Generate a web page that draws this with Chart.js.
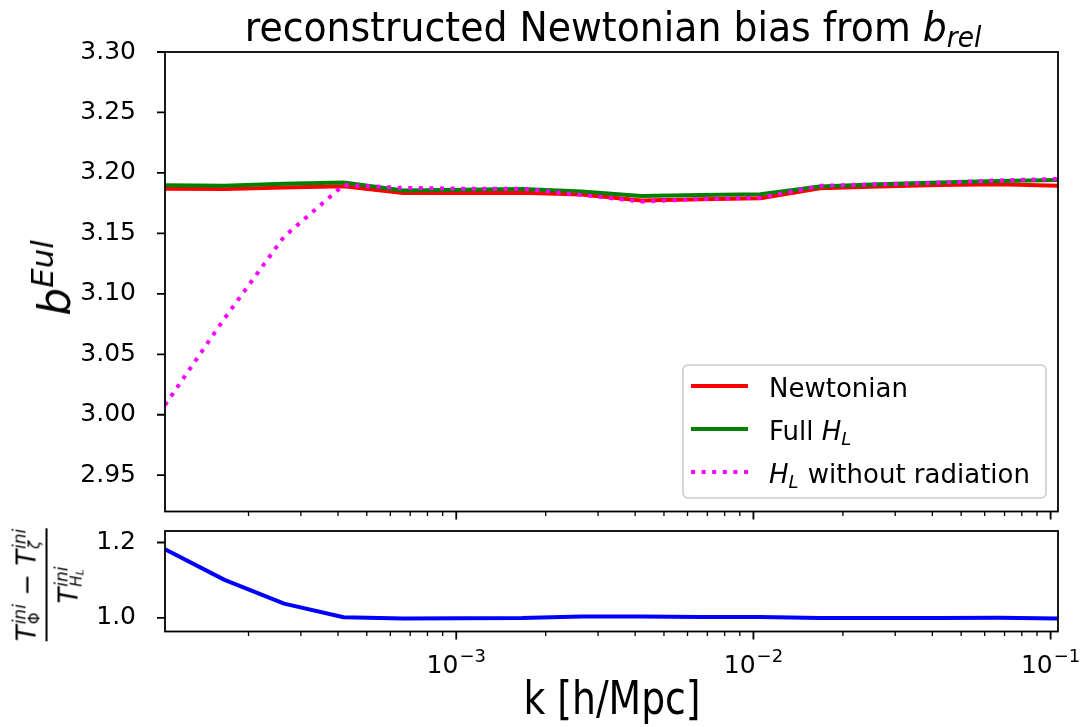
<!DOCTYPE html>
<html>
<head>
<meta charset="utf-8">
<script src="https://cdn.jsdelivr.net/npm/chart.js@4.4.1/dist/chart.umd.min.js"></script>
<style>
  body { margin: 0; background: #fff; }
  #wrap { position: relative; width: 1087px; height: 727px; overflow: hidden; font-family: "DejaVu Sans", sans-serif; color: #000; }
  canvas { position: absolute; left: 0; }
  #topChart { top: 0; }
  #botChart { top: 522px; }
  .lbl { position: absolute; white-space: nowrap; line-height: 1; }
  #title { left: 613px; top: 7px; font-size: 40px; transform: translateX(-50%) scaleX(0.945); }
  #title .sub { font-size: 0.7em; font-style: italic; position: relative; top: 0.22em; }
  #xlab { left: 611.5px; top: 675px; font-size: 46px; transform: translateX(-50%) scaleX(0.82); }
  #ylab { left: 55px; top: 278px; font-size: 44px; transform: translate(-50%, -50%) rotate(-90deg); }
  #ylab .sup { font-size: 0.7em; font-style: italic; position: relative; top: -0.55em; }
  #ylab2 { left: 49px; top: 585px; font-size: 26px; transform: translate(-50%, -50%) rotate(-90deg); }
  .frac { display: inline-flex; flex-direction: column; align-items: center; }
  .frac .bar { align-self: stretch; height: 1.8px; background: #000; margin: 4px 0 6px; }
  .ss { display: inline-flex; flex-direction: column; font-size: 17px; line-height: 0.95; vertical-align: 10px; margin-left: 1px; }
  .ss .lo { font-size: 15px; }
  .ss sub { font-size: 11px; vertical-align: -0.2em; }
</style>
</head>
<body>
<div id="wrap">
  <canvas id="topChart" width="1087" height="522"></canvas>
  <canvas id="botChart" width="1087" height="205"></canvas>
  <div id="title" class="lbl">reconstructed Newtonian bias from <i>b</i><span class="sub">rel</span></div>
  <div id="xlab" class="lbl">k [h/Mpc]</div>
  <div id="ylab" class="lbl"><i>b</i><span class="sup">Eul</span></div>
  <div id="ylab2" class="lbl">
    <div class="frac">
      <div><i>T</i><span class="ss"><i>ini</i><span class="lo">Φ</span></span> − <i>T</i><span class="ss"><i>ini</i><i class="lo">ζ</i></span></div>
      <div class="bar"></div>
      <div><i>T</i><span class="ss"><i>ini</i><span class="lo"><i>H</i><sub><i>L</i></sub></span></span></div>
    </div>
  </div>
</div>
<script>
// k grid and measured biases
const kValues = [1.047e-4, 1.661e-4, 2.634e-4, 4.178e-4, 6.628e-4, 1.051e-3, 1.667e-3, 2.644e-3,
                 4.194e-3, 6.653e-3, 1.055e-2, 1.674e-2, 2.655e-2, 4.211e-2, 6.679e-2, 1.059e-1];
const newtonian = [3.1870, 3.1866, 3.1880, 3.1890, 3.1833, 3.1833, 3.1835, 3.1822,
                   3.1772, 3.1783, 3.1791, 3.1874, 3.1887, 3.1900, 3.1907, 3.1893];
const fullHL = [3.1899, 3.1893, 3.1910, 3.1920, 3.1854, 3.1860, 3.1868, 3.1846,
                3.1810, 3.1818, 3.1824, 3.1887, 3.1907, 3.1920, 3.1934, 3.1942];
const noRadiation = [3.0080, 3.0797, 3.1473, 3.1900, 3.1876, 3.1870, 3.1870, 3.1818,
                     3.1763, 3.1783, 3.1796, 3.1893, 3.1907, 3.1920, 3.1938, 3.1950];
const tRatio = [1.1820, 1.1008, 1.0378, 1.0016, 0.9985, 0.9990, 0.9995, 1.0035,
                1.0035, 1.0020, 1.0020, 0.9995, 0.9995, 0.9995, 1.0000, 0.9980];

const xMajor = [1e-3, 1e-2, 1e-1];
const xTickExp = ['\u22123', '\u22122', '\u22121'];
const xMinor = [];
[1e-4, 1e-3, 1e-2].forEach(d => { for (let m = 2; m <= 9; m++) xMinor.push(m * d); });
const yTicksTop = [2.95, 3.00, 3.05, 3.10, 3.15, 3.20, 3.25, 3.30];
const yTicksBot = [1.0, 1.2];

const FONT = 'DejaVu Sans';
const TICK_SIZE = 25;
const xMin = 1.047e-4, xMax = 1.059e-1;

const pts = ys => ys.map((y, i) => ({ x: kValues[i], y: y }));

// box + tick marks, matplotlib style
const frame = {
  id: 'frame',
  afterDraw(chart) {
    const { ctx, chartArea: a } = chart;
    const x = chart.scales.x, y = chart.scales.y;
    ctx.save();
    ctx.strokeStyle = '#000';
    ctx.lineWidth = 1.8;
    ctx.strokeRect(a.left, a.top, a.right - a.left, a.bottom - a.top);
    ctx.beginPath();
    y.ticks.forEach(t => {
      const p = y.getPixelForValue(t.value);
      ctx.moveTo(a.left - 8, p); ctx.lineTo(a.left, p);
    });
    xMajor.forEach(v => {
      const p = x.getPixelForValue(v);
      ctx.moveTo(p, a.bottom); ctx.lineTo(p, a.bottom + 8);
    });
    ctx.stroke();
    ctx.lineWidth = 1.3;
    ctx.beginPath();
    xMinor.forEach(v => {
      if (v < xMin || v > xMax) return;
      const p = x.getPixelForValue(v);
      ctx.moveTo(p, a.bottom); ctx.lineTo(p, a.bottom + 4.5);
    });
    ctx.stroke();
    ctx.restore();
  }
};

// 10^n labels under the lower panel
const powerLabels = {
  id: 'powerLabels',
  afterDraw(chart) {
    const { ctx, chartArea: a } = chart;
    const x = chart.scales.x;
    ctx.save();
    ctx.fillStyle = '#000';
    ctx.textBaseline = 'alphabetic';
    ctx.textAlign = 'left';
    const big = TICK_SIZE + 'px "' + FONT + '"';
    const small = Math.round(TICK_SIZE * 0.72) + 'px "' + FONT + '"';
    xMajor.forEach((v, i) => {
      ctx.font = big;
      const wb = ctx.measureText('10').width;
      ctx.font = small;
      const ws = ctx.measureText(xTickExp[i]).width;
      const p = x.getPixelForValue(v);
      const base = a.bottom + 41.5;
      const left = p - (wb + ws + 1) / 2;
      ctx.font = big;
      ctx.fillText('10', left, base);
      ctx.font = small;
      ctx.fillText(xTickExp[i], left + wb + 1, base - TICK_SIZE * 0.45);
    });
    ctx.restore();
  }
};

// text with italic H_L pieces
function drawRich(ctx, text, x, y, size) {
  const parts = text.split('H_L');
  parts.forEach((part, i) => {
    if (part) {
      ctx.font = size + 'px "' + FONT + '"';
      ctx.fillText(part, x, y);
      x += ctx.measureText(part).width;
    }
    if (i < parts.length - 1) {
      ctx.font = 'italic ' + size + 'px "' + FONT + '"';
      ctx.fillText('H', x, y);
      x += ctx.measureText('H').width;
      ctx.font = 'italic ' + Math.round(size * 0.7) + 'px "' + FONT + '"';
      ctx.fillText('L', x, y + size * 0.2);
      x += ctx.measureText('L').width + 1;
    }
  });
}

const legendBox = {
  id: 'legendBox',
  afterDatasetsDraw(chart) {
    const { ctx, chartArea: a } = chart;
    const w = 363, h = 133;
    const x0 = a.right - 12 - w, y0 = a.bottom - 13.5 - h;
    ctx.save();
    ctx.beginPath();
    ctx.roundRect(x0, y0, w, h, 5);
    ctx.fillStyle = 'rgba(255,255,255,0.8)';
    ctx.fill();
    ctx.strokeStyle = '#cccccc';
    ctx.lineWidth = 1.6;
    ctx.stroke();
    ctx.fillStyle = '#000';
    ctx.textBaseline = 'alphabetic';
    chart.data.datasets.forEach((ds, i) => {
      const yy = y0 + 21 + i * 43;
      ctx.beginPath();
      ctx.setLineDash(ds.borderDash || []);
      ctx.strokeStyle = ds.borderColor;
      ctx.lineWidth = ds.borderWidth;
      ctx.moveTo(x0 + 8, yy); ctx.lineTo(x0 + 65, yy);
      ctx.stroke();
      ctx.setLineDash([]);
      drawRich(ctx, ds.label, x0 + 86, yy + 11, 26);
    });
    ctx.restore();
  }
};

function logX(display) {
  return {
    type: 'logarithmic', min: xMin, max: xMax, display: display,
    grid: { display: false }, border: { display: false },
    afterBuildTicks: s => { s.ticks = xMajor.map(v => ({ value: v, major: true })); },
    afterFit: s => { s.height = display ? 95.5 : 0; s.paddingLeft = 0; s.paddingRight = 0; },
    ticks: { display: false }
  };
}

function linY(min, max, ticks, digits) {
  return {
    min: min, max: max,
    grid: { display: false }, border: { display: false },
    afterBuildTicks: s => { s.ticks = ticks.map(v => ({ value: v })); },
    afterFit: s => { s.width = 165; s.paddingTop = 0; s.paddingBottom = 0; },
    ticks: {
      padding: 21, color: '#000',
      font: { family: FONT, size: TICK_SIZE },
      callback: v => Number(v).toFixed(digits)
    }
  };
}

const common = {
  responsive: false,
  animation: false,
  parsing: false,
  elements: { point: { radius: 0 }, line: { tension: 0, borderJoinStyle: 'round' } },
  plugins: { legend: { display: false }, tooltip: { enabled: false }, title: { display: false } }
};

new Chart(document.getElementById('topChart'), {
  type: 'line',
  data: {
    datasets: [
      { label: 'Newtonian', data: pts(newtonian), borderColor: '#ff0000', borderWidth: 4, order: 3 },
      { label: 'Full H_L', data: pts(fullHL), borderColor: '#008000', borderWidth: 4, order: 2 },
      { label: 'H_L without radiation', data: pts(noRadiation), borderColor: '#ff00ff', borderWidth: 4,
        borderDash: [4, 6.6], borderCapStyle: 'butt', order: 1 }
    ]
  },
  options: Object.assign({}, common, {
    layout: { padding: { left: 0, right: 29, top: 52, bottom: 10.5 } },
    scales: { x: logX(false), y: linY(2.92, 3.30, yTicksTop, 2) }
  }),
  plugins: [frame, legendBox]
});

new Chart(document.getElementById('botChart'), {
  type: 'line',
  data: {
    datasets: [
      { label: 'ratio', data: pts(tRatio), borderColor: '#0000ff', borderWidth: 4 }
    ]
  },
  options: Object.assign({}, common, {
    layout: { padding: { left: 0, right: 29, top: 9, bottom: 0 } },
    scales: { x: logX(true), y: linY(0.9638, 1.2305, yTicksBot, 1) }
  }),
  plugins: [frame, powerLabels]
});
</script>
</body>
</html>
